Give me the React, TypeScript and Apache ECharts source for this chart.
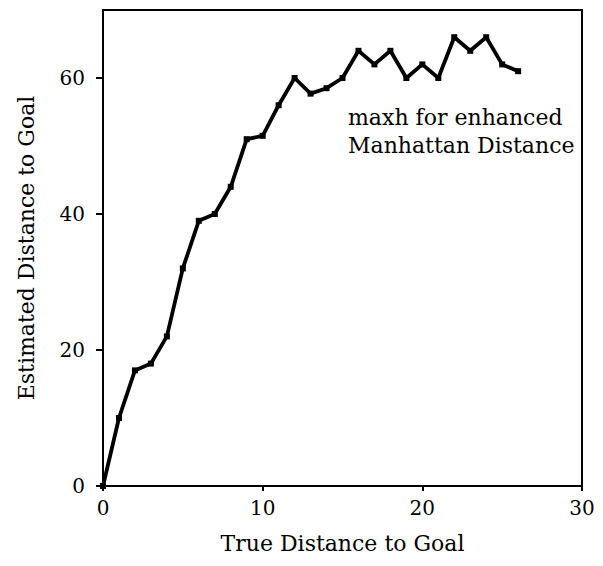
import React, { useEffect, useRef } from "react";
import * as echarts from "echarts";

const trueDistance = [0, 1, 2, 3, 4, 5, 6, 7, 8, 9, 10, 11, 12, 13, 14, 15, 16, 17, 18, 19, 20, 21, 22, 23, 24, 25, 26];
const estimatedDistance = [0, 10, 17, 18, 22, 32, 39, 40, 44, 51, 51.5, 56, 60, 57.7, 58.5, 60, 64, 62, 64, 60, 62, 60, 66, 64, 66, 62, 61];
const xTicks = [0, 10, 20, 30];
const yTicks = [0, 20, 40, 60];
const xTitle = "True Distance to Goal";
const yTitle = "Estimated Distance to Goal";
const noteLines = ["maxh for enhanced", "Manhattan Distance"];

const FONT = "'DejaVu Serif', 'Liberation Serif', serif";

export default function App() {
  const ref = useRef<HTMLDivElement>(null);
  useEffect(() => {
    if (!ref.current) return;
    const chart = echarts.init(ref.current, undefined, { renderer: "svg" });
    chart.setOption({
      animation: false,
      backgroundColor: "#ffffff",
      grid: {
        left: 103,
        right: 21,
        top: 10,
        bottom: 80,
        show: true,
        borderColor: "#000",
        borderWidth: 2,
        backgroundColor: "transparent",
      },
      xAxis: {
        type: "value",
        min: 0,
        max: 30,
        interval: 10,
        name: xTitle,
        nameLocation: "middle",
        nameGap: 46,
        nameTextStyle: { color: "#000", fontFamily: FONT, fontSize: 22 },
        axisLine: { show: true, onZero: false, lineStyle: { color: "#000", width: 2 } },
        axisTick: { show: true, length: 5, customValues: xTicks, lineStyle: { color: "#000", width: 2 } },
        axisLabel: { customValues: xTicks, margin: 12, color: "#000", fontFamily: FONT, fontSize: 20 },
        splitLine: { show: false },
      },
      yAxis: {
        type: "value",
        min: 0,
        max: 70,
        interval: 20,
        name: yTitle,
        nameLocation: "middle",
        nameGap: 66,
        nameTextStyle: { color: "#000", fontFamily: FONT, fontSize: 22 },
        axisLine: { show: true, onZero: false, lineStyle: { color: "#000", width: 2 } },
        axisTick: { show: true, length: 7, customValues: yTicks, lineStyle: { color: "#000", width: 2 } },
        axisLabel: { customValues: yTicks, margin: 18, color: "#000", fontFamily: FONT, fontSize: 20 },
        splitLine: { show: false },
      },
      series: [
        {
          type: "line",
          data: trueDistance.map((x, i) => [x, estimatedDistance[i]]),
          symbol: "rect",
          symbolSize: 6,
          showAllSymbol: true,
          lineStyle: { color: "#000", width: 3.8 },
          itemStyle: { color: "#000" },
        },
      ],
      graphic: [
        {
          type: "text",
          left: 348,
          top: 103,
          style: {
            text: noteLines.join("\n"),
            fontFamily: FONT,
            fontSize: 22,
            lineHeight: 28,
            fill: "#000",
            align: "left",
          },
        },
      ],
    });
    return () => chart.dispose();
  }, []);
  return <div ref={ref} style={{ width: 603, height: 566, margin: -8 }} />;
}
